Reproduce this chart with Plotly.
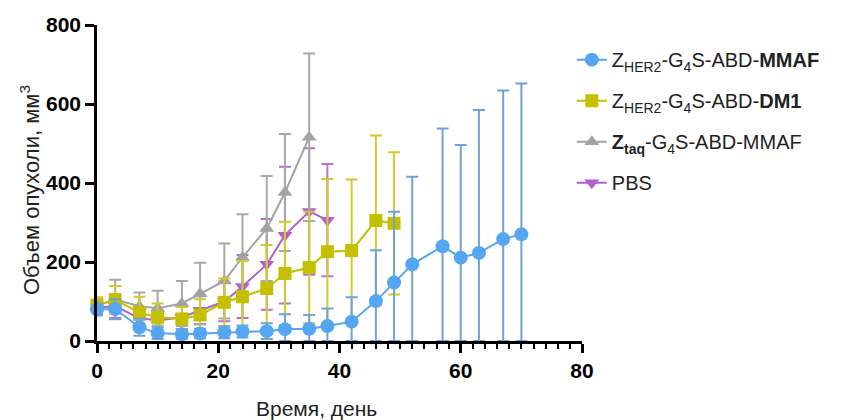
import plotly.graph_objects as go

days_mmaf = [0, 3, 7, 10, 14, 17, 21, 24, 28, 31, 35, 38, 42, 46, 49, 52, 57, 60, 63, 67, 70]
mmaf_mean = [80, 81, 35, 20, 17, 19, 22, 24, 25, 30, 31, 38, 49, 101, 148, 194, 240, 211, 223, 258, 270]
mmaf_sd = [15, 25, 22, 15, 12, 12, 15, 15, 20, 38, 35, 44, 62, 129, 179, 222, 298, 285, 362, 376, 382]

days_dm1 = [0, 3, 7, 10, 14, 17, 21, 24, 28, 31, 35, 38, 42, 46, 49]
dm1_mean = [91, 104, 72, 60, 56, 66, 98, 112, 133, 171, 186, 226, 229, 305, 298]
dm1_sd = [20, 35, 40, 35, 30, 40, 60, 90, 110, 131, 141, 184, 180, 215, 180]

days_ztaq = [0, 3, 7, 10, 14, 17, 21, 24, 28, 31, 35]
ztaq_mean = [90, 105, 88, 83, 95, 120, 152, 212, 285, 376, 516]
ztaq_sd = [15, 50, 35, 44, 57, 78, 95, 109, 133, 148, 212]

days_pbs = [0, 3, 7, 10, 14, 17, 21, 24, 28, 31, 35, 38]
pbs_mean = [85, 88, 58, 52, 60, 78, 100, 138, 194, 268, 328, 306]
pbs_sd = [20, 30, 25, 25, 30, 35, 50, 80, 115, 173, 160, 142]

x_ticks = [0, 20, 40, 60, 80]
y_ticks = [0, 200, 400, 600, 800]

series = [
    # name, x, mean, sd, marker colour, bar colour, symbol, size, rank
    ("PBS", days_pbs, pbs_mean, pbs_sd, "#b35fcc", "#b870d0", "triangle-down", 13, 4),
    ("<b>Z<sub>taq</sub></b>-G<sub>4</sub>S-ABD-MMAF", days_ztaq, ztaq_mean, ztaq_sd, "#a3a3a3", "#a8a8a8", "triangle-up", 13, 3),
    ("Z<sub>HER2</sub>-G<sub>4</sub>S-ABD-<b>DM1</b>", days_dm1, dm1_mean, dm1_sd, "#c4c000", "#cfcb2a", "square", 13, 2),
    ("Z<sub>HER2</sub>-G<sub>4</sub>S-ABD-<b>MMAF</b>", days_mmaf, mmaf_mean, mmaf_sd, "#55a6f2", "#6fa3d8", "circle", 14, 1),
]

FONT = "Liberation Sans, Arial, sans-serif"

fig = go.Figure()
for i, (name, xs, m, sd, mc, bc, sym, sz, rank) in enumerate(series):
    minus = [min(s, v) for s, v in zip(sd, m)]
    fig.add_trace(go.Scatter(
        x=xs, y=m, name=name, mode="lines+markers",
        line=dict(color=mc, width=2),
        marker=dict(color=mc, symbol=sym, size=sz),
        error_y=dict(type="data", symmetric=False, array=sd, arrayminus=minus,
                     color=bc, thickness=2, width=6),
        cliponaxis=False, legendrank=rank, legendgroup="g%d" % i,
    ))

# plot area: x 97..582 px, y 25..341 px
fig.update_layout(
    width=845, height=420,
    margin=dict(l=97, r=263, t=25, b=79),
    plot_bgcolor="white", paper_bgcolor="white",
    font=dict(family=FONT, color="black"),
    showlegend=True,
    legend=dict(x=0.979, y=0.952, xanchor="left", yanchor="top",
                font=dict(size=20, color="#222"), tracegroupgap=12,
                itemwidth=30, bgcolor="rgba(0,0,0,0)"),
    xaxis=dict(range=[0, 80], tickvals=x_ticks, ticktext=[str(v) for v in x_ticks],
               automargin=False,
               showgrid=False, zeroline=False, showline=True, linecolor="black", linewidth=2.5,
               ticks="outside", ticklen=9, tickwidth=2.5, tickcolor="black",
               minor=dict(dtick=2, ticks="outside", ticklen=5, tickwidth=2, tickcolor="black"),
               tickfont=dict(size=21, family=FONT, weight="bold")),
    yaxis=dict(range=[0, 800], tickvals=y_ticks, ticktext=[str(v) for v in y_ticks],
               automargin=False,
               showgrid=False, zeroline=False, showline=True, linecolor="black", linewidth=2.5,
               ticks="outside", ticklen=9, tickwidth=2.5, tickcolor="black",
               tickfont=dict(size=21, family=FONT, weight="bold")),
    annotations=[
        dict(text="Время, день", xref="paper", yref="paper",
             x=(316 - 97) / 485, y=(341 - 408) / 316, xanchor="center", yanchor="middle",
             showarrow=False, font=dict(size=21, family=FONT, color="#222")),
        dict(text="Объем опухоли, мм<sup>3</sup>", xref="paper", yref="paper",
             x=(30 - 97) / 485, y=(341 - 190) / 316, xanchor="center", yanchor="middle",
             textangle=-90, showarrow=False, font=dict(size=22, family=FONT, color="#222")),
    ],
)

fig.write_html("out.html")
